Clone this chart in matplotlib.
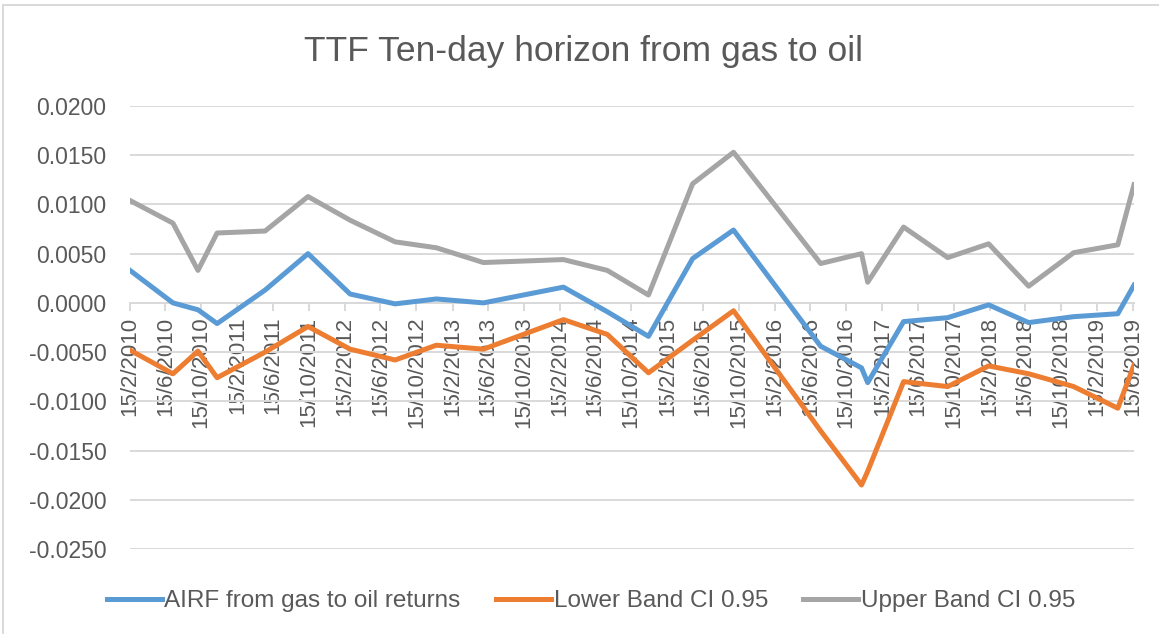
import matplotlib
matplotlib.use('Agg')
import matplotlib.pyplot as plt
from matplotlib.patches import Rectangle
import pandas as pd

dates = ['2010-02-15', '2010-07-11', '2010-10-04', '2010-12-08', '2011-05-20',
         '2011-10-13', '2012-03-04', '2012-08-04', '2012-12-22', '2013-05-31',
         '2014-02-27', '2014-07-26', '2014-12-13', '2015-05-12', '2015-09-28',
         '2016-07-20', '2016-12-06', '2016-12-27', '2017-04-28', '2017-09-25',
         '2018-02-11', '2018-06-27', '2018-11-27', '2019-04-26', '2019-06-20']

airf = [0.0033, 0.0000, -0.0007, -0.0021, 0.0013,
        0.0050, 0.0009, -0.0001, 0.0004, 0.0000,
        0.0016, -0.0009, -0.0034, 0.0045, 0.0074,
        -0.0044, -0.0066, -0.0081, -0.0019, -0.0015,
        -0.0002, -0.0020, -0.0014, -0.0011, 0.0018]

lower = [-0.0048, -0.0072, -0.0049, -0.0076, -0.0050,
         -0.0024, -0.0047, -0.0058, -0.0043, -0.0047,
         -0.0017, -0.0032, -0.0071, -0.0038, -0.0008,
         -0.0130, -0.0185, -0.0171, -0.0080, -0.0085,
         -0.0064, -0.0072, -0.0085, -0.0107, -0.0063]

upper = [0.0104, 0.0081, 0.0033, 0.0071, 0.0073,
         0.0108, 0.0084, 0.0062, 0.0056, 0.0041,
         0.0044, 0.0033, 0.0008, 0.0121, 0.0153,
         0.0040, 0.0050, 0.0021, 0.0077, 0.0046,
         0.0060, 0.0017, 0.0051, 0.0059, 0.0120]

tick_labels = ['15/2/2010', '15/6/2010', '15/10/2010',
               '15/2/2011', '15/6/2011', '15/10/2011',
               '15/2/2012', '15/6/2012', '15/10/2012',
               '15/2/2013', '15/6/2013', '15/10/2013',
               '15/2/2014', '15/6/2014', '15/10/2014',
               '15/2/2015', '15/6/2015', '15/10/2015',
               '15/2/2016', '15/6/2016', '15/10/2016',
               '15/2/2017', '15/6/2017', '15/10/2017',
               '15/2/2018', '15/6/2018', '15/10/2018',
               '15/2/2019', '15/6/2019']

y_ticks = [0.02, 0.015, 0.01, 0.005, 0.0, -0.005, -0.01, -0.015, -0.02, -0.025]

plt.rcParams['font.family'] = ['Liberation Sans', 'DejaVu Sans']
text_col = '#595959'
grid_col = '#d9d9d9'

W, H = 1159, 634
fig = plt.figure(figsize=(W / 100, H / 100), dpi=100)
ax = fig.add_axes([130 / W, 1 - 549 / H, (1134 - 130) / W, (549 - 106) / H])

x = pd.to_datetime(dates)
ax.plot(x, airf, color='#5B9BD5', lw=3.6, solid_joinstyle='round', label='AIRF from gas to oil returns')
ax.plot(x, lower, color='#ED7D31', lw=3.6, solid_joinstyle='round', label='Lower Band CI 0.95')
ax.plot(x, upper, color='#A5A5A5', lw=3.6, solid_joinstyle='round', label='Upper Band CI 0.95')

ax.set_ylim(-0.025, 0.02)
ax.set_xlim(x[0], x[-1])
ax.set_yticks(y_ticks)
ax.set_yticklabels([f'{v:.4f}' for v in y_ticks])

tick_pos = pd.to_datetime(tick_labels, format='%d/%m/%Y')
ax.set_xticks(tick_pos)
ax.set_xticklabels(tick_labels)

for s in ['top', 'right', 'left']:
    ax.spines[s].set_visible(False)
ax.spines['bottom'].set_position(('data', 0))
ax.spines['bottom'].set_color(grid_col)
ax.spines['bottom'].set_linewidth(1.4)
ax.spines['bottom'].set_zorder(1)

ax.grid(axis='y', color=grid_col, lw=1.4)
ax.set_axisbelow(True)
ax.tick_params(axis='y', length=0, pad=17, labelsize=16.5, labelcolor=text_col)
ax.tick_params(axis='x', direction='out', length=6, width=1.4, color=grid_col,
               pad=4, labelsize=16, labelcolor=text_col, labelrotation=90)
for lab in ax.get_xticklabels():
    lab.set_ha('center')
    lab.set_va('top')

fig.text(583 / W, 1 - 52 / H, 'TTF Ten-day horizon from gas to oil',
         ha='center', va='center', fontsize=25.5, color=text_col)

fig.legend(loc='center', bbox_to_anchor=(591 / W, 1 - 601 / H), ncol=3, frameon=False,
           fontsize=17.5, labelcolor=text_col, handlelength=2.25, handletextpad=0.12,
           columnspacing=1.45)

# chart area border
fig.patches.append(Rectangle((3 / W, -0.1), 1.2, 1.1 - 5 / H, transform=fig.transFigure,
                             fill=False, edgecolor=grid_col, lw=1.4))

fig.savefig('out.png', dpi=100)
